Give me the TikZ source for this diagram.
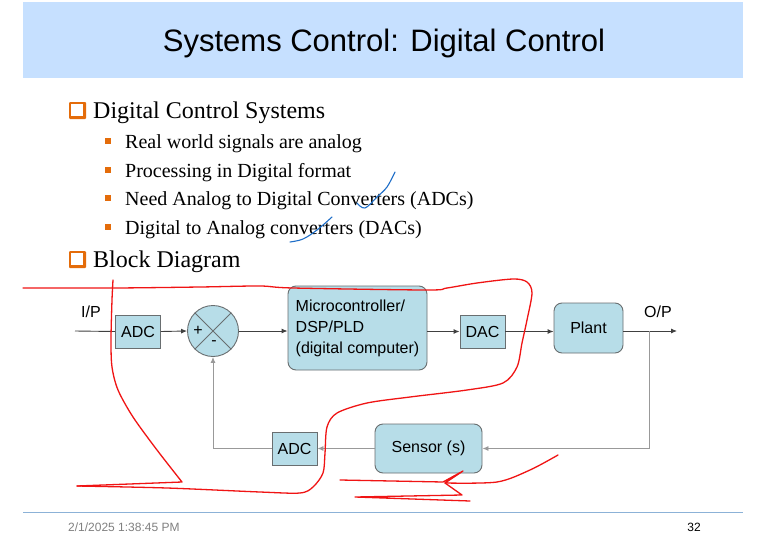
\documentclass[tikz,border=0pt]{standalone}
\usepackage{fontspec}
\setmainfont{Liberation Serif}
\newfontfamily\sansarial{Liberation Sans}
\usetikzlibrary{arrows.meta}

\definecolor{band}{RGB}{198,224,255}
\definecolor{boxfill}{RGB}{183,221,232}
\definecolor{boxline}{RGB}{105,110,112}
\definecolor{bulletorange}{RGB}{228,108,10}
\definecolor{footline}{RGB}{140,178,215}
\definecolor{inkred}{RGB}{240,20,20}
\definecolor{inkblue}{RGB}{30,110,200}

\newcommand{\diagfont}{\sansarial\fontsize{16}{21}\selectfont}

\tikzset{
  blk/.style={draw=boxline, line width=0.9pt, fill=boxfill, font=\diagfont, inner sep=0pt,
    minimum width=45pt, minimum height=33pt},
  rblk/.style={blk, rounded corners=8pt},
  sumc/.style={shape=circle, draw=boxline, line width=0.9pt, fill=boxfill, minimum size=51pt, inner sep=0pt},
  sig/.style={draw=black!75, line width=0.9pt, -{Latex[length=6pt,width=5pt]}},
  fb/.style={draw=black!40, line width=0.9pt, -{Latex[length=6pt,width=5pt]}},
  lbl/.style={font=\diagfont, inner sep=0pt},
  txt/.style={anchor=base west, inner sep=0pt},
  ink/.style={draw=inkred, line width=1.3pt, line cap=round, line join=round},
  pen/.style={draw=inkblue, line width=1.1pt, line cap=round, line join=round}
}

\begin{document}
\begin{tikzpicture}[x=1pt, y=-1pt]

  % page and title band
  \fill[white] (0,0) rectangle (768,543);
  \useasboundingbox (0,0) rectangle (768,543);
  \fill[band] (23,2) rectangle (743,78);
  \node[font=\sansarial\fontsize{31}{36}\selectfont] (title) at (384,43) {Systems Control: Digital Control};

  % bullets
  \fill[bulletorange, rounded corners=1pt] (69,102) rectangle (86,119);
  \fill[white] (70.5,103.5) rectangle (83,116);
  \node[txt, font=\fontsize{24}{28}\selectfont] (dcs) at (93,118) {Digital Control Systems};
  \foreach \y in {148,177,205,234}
    \fill[bulletorange] (105,\y-10) rectangle (111,\y-4);
  \node[txt, font=\fontsize{20}{24}\selectfont] (real) at (125,148) {Real world signals are analog};
  \node[txt, font=\fontsize{20}{24}\selectfont] (proc) at (125,177) {Processing in Digital format};
  \node[txt, font=\fontsize{20}{24}\selectfont] (need) at (125,205) {Need Analog to Digital Converters (ADCs)};
  \node[txt, font=\fontsize{20}{24}\selectfont] (d2a) at (125,234) {Digital to Analog converters (DACs)};
  \fill[bulletorange, rounded corners=1pt] (69,251) rectangle (86,268);
  \fill[white] (70.5,252.5) rectangle (83,265);
  \node[txt, font=\fontsize{24}{28}\selectfont] (bd) at (93,267) {Block Diagram};

  % block diagram
  \node[blk] (adcin) at (138,331.5) {ADC};
  \node[sumc] (sum) at (213,331) {};
  \draw[boxline, line width=0.9pt] (sum.north west) -- (sum.south east);
  \draw[boxline, line width=0.9pt] (sum.north east) -- (sum.south west);
  \node[lbl] (plus) at (198,331) {+};
  \node[lbl] (minus) at (214,343) {-};
  \node[rblk, minimum width=139pt, minimum height=84pt, align=left] (mcu) at (357.5,328)
    {Microcontroller/\\DSP/PLD\\(digital computer)};
  \node[blk] (dac) at (482.5,331.5) {DAC};
  \node[rblk, minimum width=69pt, minimum height=50pt] (plant) at (588.5,328) {Plant};
  \node[rblk, minimum width=107pt, minimum height=49pt] (sensor) at (428.5,448.5) {Sensor (s)};
  \node[blk] (adcfb) at (294.5,448.5) {ADC};
  \node[lbl] (ip) at (91,312) {I/P};
  \node[lbl] (op) at (658,312) {O/P};
  \coordinate (in) at (75,331);
  \coordinate (out) at (677,331);
  \coordinate (tap) at (649,331);

  \draw[black!75, line width=0.9pt] (in) -- (adcin.west);
  \draw[sig] (adcin.east) -- (sum.west);
  \draw[sig] (sum.east) -- (sum.east -| mcu.west);
  \draw[sig] (mcu.east |- dac.west) -- (dac.west);
  \draw[sig] (dac.east) -- (dac.east -| plant.west);
  \draw[sig] (plant.east |- out) -- (out);
  \draw[fb] (tap) |- (sensor.east);
  \draw[fb] (sensor.west) -- (adcfb.east);
  \draw[fb] (adcfb.west) -| (sum.south);

  % red pen marks
  \draw[ink] plot[smooth, tension=0.5] coordinates {(23,288) (115,288) (200,287) (260,286)
    (293,288) (427,290) (447,288) (477,283) (513,279) (527,282) (532,293) (527,320)
    (522,343) (517,367) (503,383) (467,390) (410,397) (367,403) (337,413) (327,427)
    (325,453) (323,473) (313,487) (300,493) (260,492) (167,488) (77,486)};
  \draw[ink] plot[smooth, tension=0.5] coordinates {(113,280) (112,300) (111,340)
    (112,367) (118,390) (133,417) (157,450) (182,482)} -- (77,486);
  \draw[ink] (340,480) -- (443,482) -- (463,471) -- (445,483)
    plot[smooth, tension=0.5] coordinates {(445,483) (497,482) (530,470) (558,455)};
  \draw[ink] (445,483) -- (462,495) -- (355,497) -- (470,501);

  % blue pen marks
  \draw[pen] plot[smooth, tension=0.6] coordinates {(357,203) (365,208) (377,197) (387,187) (395,172)};
  \draw[pen] plot[smooth, tension=0.6] coordinates {(290,242) (303,239) (317,230) (332,217)};

  % footer
  \draw[footline, line width=1pt] (23,512) -- (743,512);
  \node[anchor=west, inner sep=0pt, text=black!50, font=\sansarial\fontsize{12}{14}\selectfont] (date) at (68,527) {2/1/2025 1:38:45 PM};
  \node[anchor=east, inner sep=0pt, font=\sansarial\fontsize{12}{14}\selectfont] (page) at (701,527) {32};

\end{tikzpicture}
\end{document}
